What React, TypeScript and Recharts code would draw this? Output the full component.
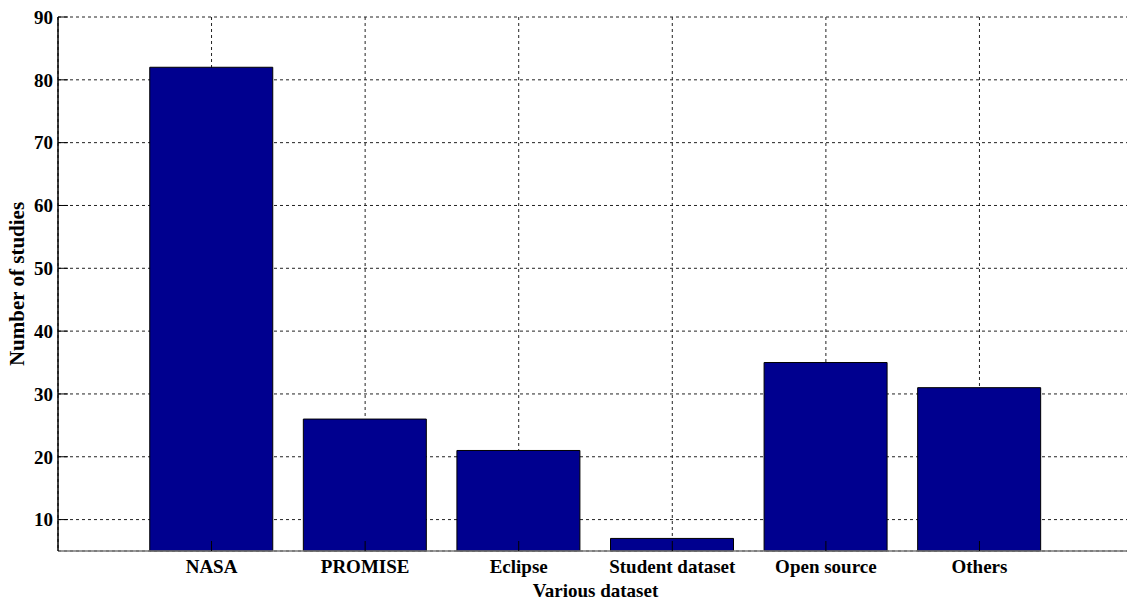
import React from 'react';
import {
  BarChart,
  Bar,
  XAxis,
  YAxis,
  CartesianGrid,
} from 'recharts';

const categories = ['NASA', 'PROMISE', 'Eclipse', 'Student dataset', 'Open source', 'Others'];
const studies = [82, 26, 21, 7, 35, 31];
const majorTicks = [10, 20, 30, 40, 50, 60, 70, 80, 90];
const minorTicks = [15, 25, 35, 45, 55, 65, 75, 85];

const data = categories.map((name, i) => ({ name, studies: studies[i] }));

const font = '"Liberation Serif", "Times New Roman", serif';
const labelStyle = { fontFamily: font, fontWeight: 700, fontSize: 19, fill: '#000' };

const YTitle = ({ viewBox }: any) => {
  const cx = viewBox.x + 17;
  const cy = viewBox.y + viewBox.height / 2;
  return (
    <text
      x={cx}
      y={cy}
      transform={`rotate(-90, ${cx}, ${cy})`}
      textAnchor="middle"
      dominantBaseline="central"
      style={{ ...labelStyle, fontSize: 21 }}
    >
      Number of studies
    </text>
  );
};

const XTitle = ({ viewBox }: any) => (
  <text
    x={viewBox.x + viewBox.width / 2}
    y={viewBox.y + 46}
    textAnchor="middle"
    style={labelStyle}
  >
    Various dataset
  </text>
);

const pad = { left: 76.75, right: 76.75 };

export default function App() {
  return (
    <div style={{ position: 'absolute', left: 0, top: 0, width: 1127, height: 601, overflow: 'hidden', background: '#fff' }}>
      <BarChart
        width={1133}
        height={601}
        data={data}
        margin={{ top: 17, right: 0, bottom: 0, left: 0 }}
        barSize={123}
      >
        <CartesianGrid stroke="#222" strokeDasharray="3 3" />
        <XAxis
          dataKey="name"
          padding={pad}
          height={50}
          tickSize={-10}
          tickMargin={18.5}
          tick={labelStyle}
          tickLine={{ stroke: '#000' }}
          axisLine={{ stroke: '#777', strokeWidth: 1.5 }}
          interval={0}
          label={<XTitle />}
        />
        <XAxis
          xAxisId="top"
          orientation="top"
          dataKey="name"
          padding={pad}
          height={0}
          tickSize={-10}
          tick={false}
          tickLine={{ stroke: '#000' }}
          axisLine={{ stroke: '#777', strokeWidth: 1.5 }}
          interval={0}
        />
        <YAxis
          yAxisId="minorL"
          width={0}
          domain={[5, 90]}
          ticks={minorTicks}
          tickSize={-5}
          tick={false}
          axisLine={false}
          tickLine={{ stroke: '#000' }}
        />
        <YAxis
          width={58}
          domain={[5, 90]}
          ticks={majorTicks}
          tickSize={-10}
          tickMargin={15}
          tick={labelStyle}
          tickLine={{ stroke: '#000' }}
          axisLine={{ stroke: '#000', strokeWidth: 1.5 }}
          label={<YTitle />}
        />
        <YAxis
          yAxisId="right"
          orientation="right"
          width={0}
          domain={[5, 90]}
          ticks={majorTicks}
          tickSize={-10}
          tick={false}
          axisLine={{ stroke: '#000' }}
          tickLine={{ stroke: '#000' }}
        />
        <YAxis
          yAxisId="minorR"
          orientation="right"
          width={0}
          domain={[5, 90]}
          ticks={minorTicks}
          tickSize={-5}
          tick={false}
          axisLine={false}
          tickLine={{ stroke: '#000' }}
        />
        <Bar dataKey="studies" fill="#00008F" stroke="#000" strokeWidth={1} isAnimationActive={false} />
      </BarChart>
    </div>
  );
}
